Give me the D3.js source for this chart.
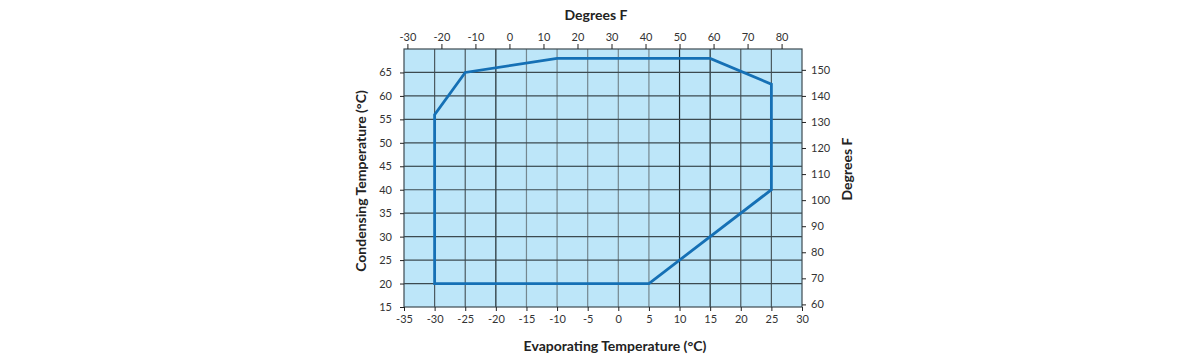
<!DOCTYPE html>
<html><head><meta charset="utf-8">
<script src="https://cdn.jsdelivr.net/npm/d3@7"></script>
<style>
body{margin:0;background:#fff;}
text{font-family:Lato,"Open Sans",sans-serif;}
</style></head>
<body><svg id="c" width="1200" height="361"></svg>
<script>
// Data
const envelopeEvap = [-30, -30, -25, -10, 15, 25, 25, 5];
const envelopeCond = [20, 56, 65, 68, 68, 62.5, 40, 20];
const xTicksC = [-35,-30,-25,-20,-15,-10,-5,0,5,10,15,20,25,30];
const yTicksC = [15,20,25,30,35,40,45,50,55,60,65];
const xTicksF = [-30,-20,-10,0,10,20,30,40,50,60,70,80];
const yTicksF = [60,70,80,90,100,110,120,130,140,150];
const darkV = [-20,10,15];
const midV = [-30,-25,20,25];

const svg = d3.select("#c");
const L=404, R=802, T=49, B=307;
const x = d3.scaleLinear().domain([-35,30]).range([L,R]);
const y = d3.scaleLinear().domain([15,70]).range([B,T]);
const xF = d3.scaleLinear().domain([-35*9/5+32, 30*9/5+32]).range([L,R]);
const yF = d3.scaleLinear().domain([15*9/5+32, 70*9/5+32]).range([B,T]);
const fmt = d => String(d);

svg.append("rect").attr("x",L).attr("y",T).attr("width",R-L).attr("height",B-T).attr("fill","#bde6f9");

// grid
const g = svg.append("g");
d3.range(-30,30,5).forEach(v=>{
  const col = darkV.includes(v)?"#1e2a2e":(midV.includes(v)?"#4c5a60":"#74878f");
  g.append("line").attr("x1",x(v)).attr("x2",x(v)).attr("y1",T).attr("y2",B)
   .attr("stroke",col).attr("stroke-width",1.2);
});
d3.range(20,70,5).forEach(v=>{
  const col = v===45?"#1e2a2e":"#3c4a50";
  g.append("line").attr("y1",y(v)).attr("y2",y(v)).attr("x1",L).attr("x2",R)
   .attr("stroke",col).attr("stroke-width",1.2);
});
svg.append("rect").attr("x",L).attr("y",T).attr("width",R-L).attr("height",B-T)
  .attr("fill","none").attr("stroke","#3c4a50").attr("stroke-width",1.2);

// envelope
const pts = envelopeEvap.map((e,i)=>[x(e),y(envelopeCond[i])]);
svg.append("path").attr("d",d3.line()(pts)+"Z").attr("fill","none")
  .attr("stroke","#1570b5").attr("stroke-width",2.8).attr("stroke-linejoin","miter");

// axes
function style(sel){
  sel.select(".domain").remove();
  sel.selectAll("line").attr("stroke","#222");
  sel.selectAll("text").attr("fill","#333").style("font-size","11px").style("font-family","Lato,sans-serif");
}
svg.append("g").attr("transform",`translate(0,${B})`)
  .call(d3.axisBottom(x).tickValues(xTicksC).tickSize(4).tickPadding(4).tickFormat(fmt)).call(style);
svg.append("g").attr("transform",`translate(${L},0)`)
  .call(d3.axisLeft(y).tickValues(yTicksC).tickSize(4).tickPadding(8).tickFormat(fmt)).call(style);
svg.append("g").attr("transform",`translate(0,${T})`)
  .call(d3.axisTop(xF).tickValues(xTicksF).tickSize(5).tickPadding(3).tickFormat(fmt)).call(style);
svg.append("g").attr("transform",`translate(${R},0)`)
  .call(d3.axisRight(yF).tickValues(yTicksF).tickSize(4).tickPadding(5).tickFormat(fmt)).call(style);

// titles
const tstyle = s=>s.attr("font-weight","bold").attr("fill","#222").style("font-size","14px").attr("text-anchor","middle");
svg.append("text").attr("x",596).attr("y",20).text("Degrees F").call(tstyle);
svg.append("text").attr("x",615).attr("y",351).text("Evaporating Temperature (°C)").call(tstyle);
svg.append("text").attr("transform","translate(366,181) rotate(-90)").text("Condensing Temperature (°C)").call(tstyle);
svg.append("text").attr("transform","translate(852,169) rotate(-90)").text("Degrees F").call(tstyle);
</script></body></html>
